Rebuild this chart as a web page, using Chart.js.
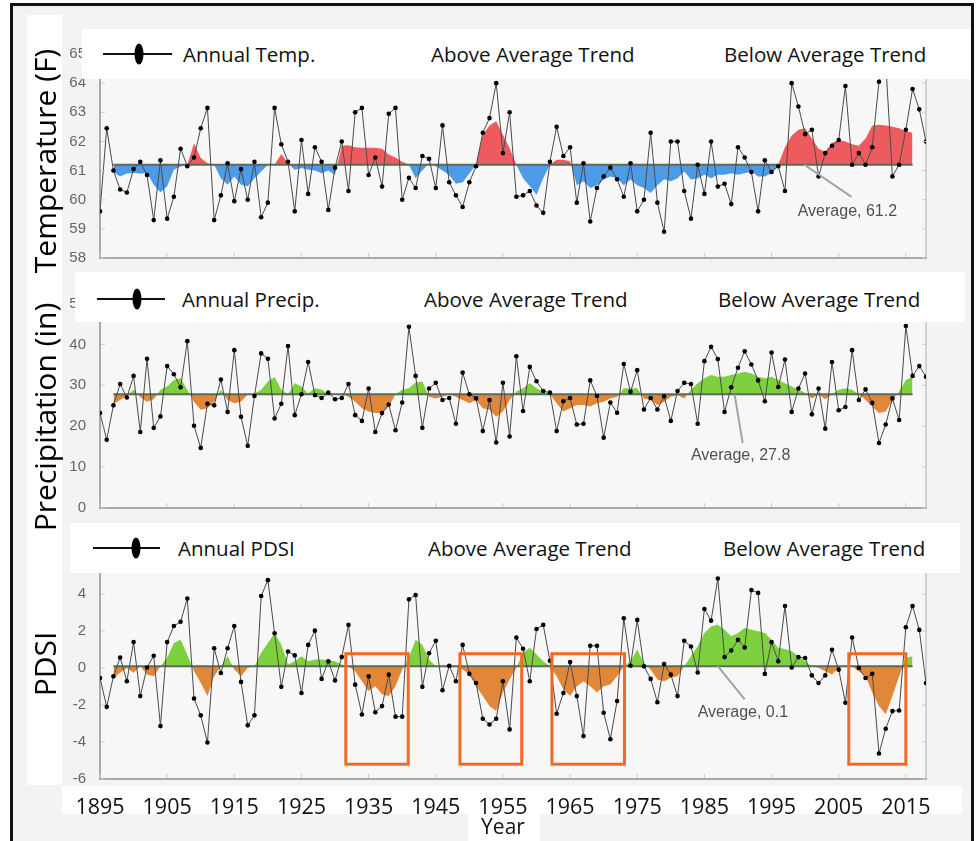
<!DOCTYPE html>
<html>
<head>
<meta charset="utf-8">
<script src="https://cdn.jsdelivr.net/npm/chart.js@4.4.1/dist/chart.umd.min.js"></script>
<style>
html, body { margin: 0; padding: 0; background: #fff; }
#wrap { position: relative; width: 977px; height: 841px; overflow: hidden; font-family: "Open Sans", sans-serif; }
#frame { position: absolute; left: 10px; top: 3px; width: 964px; height: 870px; border: 3px solid #111; box-sizing: border-box; background: #f3f3f3; }
canvas { position: absolute; left: 0; }
.white { position: absolute; background: #fff; }
.leg { position: absolute; font-size: 20.5px; color: #111; white-space: nowrap; line-height: 1; transform: translateY(-50%); }
.sym { position: absolute; height: 1.5px; background: #111; }
.dot { position: absolute; width: 9px; height: 21px; border-radius: 50%; background: #000; transform: translate(-50%, -50%); }
.ytitle { position: absolute; font-size: 30px; color: #000; white-space: nowrap; line-height: 1; transform: translate(-50%, -50%) rotate(-90deg); }
#year { position: absolute; left: 503px; top: 826px; font-size: 21px; color: #111; transform: translate(-50%, -50%); line-height: 1; }
</style>
</head>
<body>
<div id="wrap">
  <div id="frame"></div>
  <div class="white" style="left:27px;top:15px;width:35px;height:770px"></div>
  <div class="white" style="left:62px;top:786px;width:900px;height:28px"></div>
  <div class="white" style="left:468px;top:813px;width:72px;height:28px"></div>

  <canvas id="tempChart" width="977" height="280" style="top:0"></canvas>
  <canvas id="precipChart" width="977" height="250" style="top:280px"></canvas>
  <canvas id="pdsiChart" width="977" height="311" style="top:530px"></canvas>

  <div class="white" style="left:82px;top:29px;width:889px;height:50px"></div>
  <div class="sym" style="left:103px;top:53px;width:69px"></div>
  <div class="dot" style="left:139px;top:54px"></div>
  <div class="leg" style="left:183px;top:54px">Annual Temp.</div>
  <div class="leg" style="left:431px;top:54px">Above Average Trend</div>
  <div class="leg" style="left:724px;top:54px">Below Average Trend</div>

  <div class="white" style="left:75px;top:272px;width:890px;height:50px"></div>
  <div class="sym" style="left:97px;top:298px;width:68px"></div>
  <div class="dot" style="left:137px;top:299px"></div>
  <div class="leg" style="left:182px;top:299px">Annual Precip.</div>
  <div class="leg" style="left:424px;top:299px">Above Average Trend</div>
  <div class="leg" style="left:718px;top:299px">Below Average Trend</div>

  <div class="white" style="left:70px;top:523px;width:890px;height:50px"></div>
  <div class="sym" style="left:93px;top:547px;width:67px"></div>
  <div class="dot" style="left:136px;top:548px"></div>
  <div class="leg" style="left:178px;top:548px">Annual PDSI</div>
  <div class="leg" style="left:428px;top:548px">Above Average Trend</div>
  <div class="leg" style="left:723px;top:548px">Below Average Trend</div>

  <div class="ytitle" style="left:45px;top:161px">Temperature (F)</div>
  <div class="ytitle" style="left:45px;top:417px">Precipitation (in)</div>
  <div class="ytitle" style="left:45px;top:664px">PDSI</div>
  <div id="year">Year</div>
</div>

<script>
// years 1895..2018
const years = [];
for (let yr = 1895; yr <= 2018; yr++) years.push(yr);
const xTicks = [1895, 1905, 1915, 1925, 1935, 1945, 1955, 1965, 1975, 1985, 1995, 2005, 2015];
const averageSpan = [1897, 2016];

const tempAverage = 61.2;
const tempAnnual = [
  59.6, 62.45, 61.0, 60.35, 60.25, 61.05, 61.3, 60.85, 59.3, 61.35,   // 1895
  59.35, 60.1, 61.75, 61.15, 61.45, 62.45, 63.15, 59.3, 60.15, 61.25, // 1905
  59.95, 61.05, 60.0, 61.3, 59.4, 59.9, 63.15, 61.9, 61.3, 59.6,      // 1915
  62.05, 60.2, 61.8, 61.3, 59.65, 61.1, 62.0, 60.3, 63.0, 63.15,      // 1925
  60.85, 61.45, 60.45, 62.95, 63.15, 60.0, 60.75, 60.4, 61.5, 61.4,   // 1935
  60.4, 62.55, 60.6, 60.15, 59.75, 60.6, 61.15, 62.3, 62.8, 64.0,     // 1945
  61.6, 63.0, 60.1, 60.15, 60.3, 59.8, 59.55, 61.3, 62.5, 61.5,       // 1955
  61.8, 59.9, 61.25, 59.25, 60.4, 60.8, 61.1, 60.7, 60.1, 61.25,      // 1965
  59.6, 60.0, 62.3, 59.9, 58.9, 62.0, 62.0, 60.3, 59.35, 61.2,        // 1975
  60.2, 62.0, 60.45, 60.55, 59.85, 61.8, 61.45, 60.95, 59.6, 61.35,   // 1985
  60.95, 61.15, 60.3, 64.0, 63.2, 62.25, 62.4, 60.8, 61.6, 61.85,     // 1995
  62.05, 63.9, 61.2, 61.6, 61.2, 61.8, 64.05, 64.7, 60.8, 61.2,       // 2005
  62.4, 63.8, 63.1, 62.0                                              // 2015
];
const tempTrend = [
  null, null, 60.95, 60.8, 60.9, 60.92, 60.9, 60.91, 60.51, 60.26,
  60.46, 61.03, 61.14, 61.2, 61.94, 61.43, 61.25, 61.2, 60.74, 60.51,
  60.8, 60.51, 60.46, 60.74, 60.97, 61.2, 61.2, 61.57, 61.25, 61.03,
  61.09, 61.03, 61.0, 60.91, 61.0, 60.86, 61.85, 61.87, 61.8, 61.78,
  61.78, 61.78, 61.75, 61.55, 61.45, 61.3, 61.2, 60.74, 61.0, 61.25,
  61.15, 61.0, 60.85, 60.55, 60.6, 60.9, 61.2, 62.23, 62.55, 62.69,
  62.23, 61.77, 61.2, 60.74, 60.46, 60.17, 60.74, 61.2, 61.37, 61.37,
  61.32, 60.5, 60.63, 60.4, 60.5, 60.69, 60.8, 60.74, 60.5, 60.69,
  60.5, 60.4, 60.23, 60.5, 60.7, 60.63, 60.74, 60.97, 60.69, 60.74,
  60.86, 60.74, 60.86, 60.86, 60.91, 60.86, 60.91, 60.97, 60.8, 60.8,
  60.91, 61.2, 61.8, 62.2, 62.4, 62.45, 62.1, 61.75, 61.65, 61.95,
  62.05, 62.0, 61.9, 61.85, 62.1, 62.55, 62.57, 62.55, 62.5, 62.45,
  62.35, 62.3, null, null
];

const precipAverage = 27.8;
const precipAnnual = [
  23.2, 16.7, 25.1, 30.3, 27.0, 32.3, 18.6, 36.5, 19.6, 22.4,
  34.7, 32.7, 29.5, 40.8, 20.1, 14.7, 25.5, 25.1, 31.4, 23.5,
  38.6, 22.3, 15.2, 27.4, 37.8, 36.5, 21.9, 25.5, 39.6, 22.7,
  27.8, 35.7, 27.6, 26.9, 28.2, 26.6, 26.9, 30.3, 22.7, 21.3,
  29.2, 18.6, 23.2, 25.3, 19.0, 25.8, 44.3, 32.3, 19.6, 29.2,
  30.6, 26.4, 26.9, 20.6, 33.1, 27.8, 26.8, 18.8, 26.4, 16.0,
  30.6, 17.5, 37.1, 23.7, 34.5, 31.0, 28.6, 28.2, 18.8, 26.1,
  26.9, 20.4, 20.6, 31.2, 27.4, 17.2, 25.8, 23.3, 35.2, 28.4,
  33.7, 24.1, 26.9, 24.1, 27.3, 21.3, 28.6, 30.6, 30.3, 20.6,
  35.9, 39.4, 36.4, 23.5, 29.5, 34.3, 38.3, 35.1, 31.2, 26.1,
  38.0, 29.6, 36.3, 23.5, 29.2, 32.9, 22.9, 29.2, 19.4, 35.7,
  23.9, 24.7, 38.6, 26.4, 29.0, 25.7, 15.9, 20.4, 26.8, 21.5,
  44.5, 32.3, 34.7, 32.1
];
const precipTrend = [
  null, null, 25.4, 26.4, 27.4, 28.9, 27.1, 26.0, 26.6, 28.9,
  29.7, 31.3, 31.7, 28.9, 26.0, 24.0, 24.4, 26.0, 28.9, 26.4,
  25.6, 26.0, 27.8, 28.0, 28.9, 30.9, 32.0, 28.9, 27.8, 30.5,
  29.7, 28.0, 29.3, 29.0, 27.8, 27.8, 27.8, 27.2, 26.0, 24.4,
  23.6, 23.2, 23.2, 24.8, 27.8, 28.9, 29.3, 30.7, 30.9, 27.2,
  26.8, 27.2, 27.8, 27.2, 26.4, 25.6, 26.4, 24.4, 24.0, 22.3,
  23.6, 26.4, 28.5, 29.3, 30.5, 29.3, 28.5, 27.8, 25.6, 23.6,
  24.4, 25.2, 25.2, 24.8, 25.6, 26.0, 26.8, 27.2, 29.3, 29.3,
  29.3, 26.8, 26.4, 25.2, 26.0, 27.2, 27.6, 26.8, 28.9, 30.5,
  31.7, 32.5, 32.1, 32.1, 32.5, 32.9, 33.3, 32.9, 32.1, 31.7,
  32.1, 31.3, 30.5, 29.7, 28.9, 28.2, 26.8, 27.8, 26.6, 27.8,
  28.9, 29.3, 28.9, 27.8, 26.4, 24.8, 23.2, 23.6, 26.4, 28.5,
  31.3, 32.1, null, null
];

const pdsiAverage = 0.1;
const pdsiAnnual = [
  -0.54, -2.1, -0.45, 0.57, -0.72, 1.4, -1.52, 0.03, 0.66, -3.14,
  1.4, 2.27, 2.5, 3.76, -1.65, -2.56, -4.03, 1.07, -0.27, 1.07,
  2.27, -0.75, -3.1, -2.56, 3.89, 4.75, 1.88, -1.02, 0.89, 0.68,
  -1.35, 1.25, 2.02, -0.59, 0.36, -0.67, 0.59, 2.33, -0.9, -2.51,
  -0.45, -2.39, -2.06, -0.36, -2.63, -2.63, 3.71, 3.94, -1.02, 0.8,
  1.47, -1.2, 0.12, -0.72, 1.25, -0.32, -0.81, -2.74, -3.05, -2.74,
  -0.72, -3.32, 1.65, 1.04, -0.72, 2.11, 2.33, 0.39, -2.47, -1.35,
  0.32, -1.52, -3.68, 1.2, 1.2, -2.42, -3.85, -1.79, 2.69, 0.12,
  2.6, 0.09, -0.59, -1.85, 0.21, -0.36, -1.52, 1.47, 1.16, -0.24,
  3.19, 2.56, 4.84, 0.59, 0.95, 1.52, 1.11, 4.21, 4.06, -0.32,
  1.4, 0.36, 3.35, 0.03, 0.59, 0.54, -0.4, -0.81, -0.4, 0.98,
  -0.09, -1.88, 1.65, 0.0, -0.54, -0.31, -4.62, -3.28, -2.33, -2.3,
  2.2, 3.35, 2.06, -0.81
];
const pdsiTrend = [
  null, null, -0.53, -0.26, 0.0, -0.26, 0.1, -0.35, -0.44, 0.1,
  0.55, 1.35, 1.53, 0.73, -0.17, -0.8, -1.51, -0.44, 0.1, 0.64,
  -0.08, -0.44, 0.01, 0.1, 0.82, 1.35, 1.89, 1.26, 0.19, 0.37,
  0.64, 0.37, 0.46, 0.46, 0.42, 0.37, 0.19, 0.1, -0.17, -0.71,
  -1.24, -0.98, -1.42, -1.51, -0.98, -0.08, 0.55, 1.53, 1.26, 0.46,
  0.1, 0.1, 0.01, 0.05, -0.08, -0.35, -0.98, -1.51, -2.05, -2.32,
  -1.33, -0.62, 0.01, 0.82, 1.09, 0.73, 0.37, 0.1, -0.44, -1.15,
  -1.51, -0.98, -0.71, -0.98, -1.33, -0.98, -0.89, -0.44, 0.1, 0.37,
  1.0, 0.28, -0.08, -0.62, -0.71, -0.53, -0.44, 0.1, 0.64, 1.18,
  1.89, 2.25, 2.34, 2.07, 1.71, 1.89, 2.16, 2.07, 1.98, 1.89,
  1.53, 1.09, 1.03, 0.91, 0.64, 0.37, 0.1, 0.01, -0.17, -0.35,
  0.01, 0.1, 0.1, -0.17, -0.44, -1.33, -2.05, -2.5, -1.51, -0.44,
  0.55, 0.64, null, null
];

// drought periods outlined on the PDSI panel: [from year, to year]
const droughtYears = [[1931.6, 1940.9], [1948.6, 1957.8], [1962.3, 1973.1], [2006.5, 2015.0]];
const droughtRange = [0.77, -5.2];

const panelPlugin = {
  id: 'panel',
  beforeDraw(chart) {
    const { ctx, chartArea: a } = chart;
    ctx.save();
    ctx.fillStyle = '#f7f7f7';
    ctx.fillRect(a.left, a.top, a.right - a.left, a.bottom - a.top);
    ctx.strokeStyle = '#c6c6c6';
    ctx.lineWidth = 1.5;
    ctx.beginPath();
    ctx.moveTo(a.right, a.top);
    ctx.lineTo(a.right, a.bottom);
    ctx.stroke();
    ctx.restore();
  },
  afterDraw(chart, args, opts) {
    const { ctx, chartArea: a, scales: { x, y } } = chart;
    ctx.save();
    // little inside ticks
    ctx.strokeStyle = '#cdcdcd';
    ctx.lineWidth = 1;
    ctx.beginPath();
    y.ticks.forEach(t => {
      const py = y.getPixelForValue(t.value);
      ctx.moveTo(a.left + 1, py); ctx.lineTo(a.left + 5, py);
      ctx.moveTo(a.right - 4, py); ctx.lineTo(a.right, py);
    });
    x.ticks.forEach(t => {
      const px = x.getPixelForValue(t.value);
      ctx.moveTo(px, a.bottom - 1); ctx.lineTo(px, a.bottom - 5);
    });
    ctx.stroke();

    const n = opts.note;
    if (n) {
      ctx.strokeStyle = '#a3a3a3';
      ctx.lineWidth = 2;
      ctx.beginPath();
      ctx.moveTo(x.getPixelForValue(n.line[0][0]), y.getPixelForValue(n.line[0][1]));
      ctx.lineTo(x.getPixelForValue(n.line[1][0]), y.getPixelForValue(n.line[1][1]));
      ctx.stroke();
      ctx.fillStyle = '#505050';
      ctx.font = '16px "Liberation Sans", Arial, sans-serif';
      ctx.textBaseline = 'middle';
      ctx.fillText(n.text, x.getPixelForValue(n.at[0]), y.getPixelForValue(n.at[1]));
    }
    (opts.boxes || []).forEach(b => {
      const x0 = x.getPixelForValue(b[0]), x1 = x.getPixelForValue(b[1]);
      const y0 = y.getPixelForValue(opts.boxRange[0]), y1 = y.getPixelForValue(opts.boxRange[1]);
      ctx.strokeStyle = '#f26a21';
      ctx.lineWidth = 3;
      ctx.strokeRect(x0, y0, x1 - x0, y1 - y0);
    });
    ctx.restore();
  }
};

function pts(arr) {
  return years.map((yr, i) => ({ x: yr, y: arr[i] }));
}

function makeChart(id, cfg) {
  return new Chart(document.getElementById(id), {
    type: 'line',
    data: {
      datasets: [
        {
          label: cfg.label,
          data: pts(cfg.annual),
          borderColor: '#4a4a4a',
          borderWidth: 1,
          pointRadius: 2.3,
          pointBackgroundColor: '#000',
          pointBorderWidth: 0,
          fill: false,
          tension: 0
        },
        {
          label: 'Average',
          data: averageSpan.map(yr => ({ x: yr, y: cfg.avg })),
          borderColor: '#5b6a5c',
          borderWidth: 2,
          pointRadius: 0,
          fill: false
        },
        {
          label: 'Trend',
          data: pts(cfg.trend),
          borderWidth: 0,
          borderColor: 'rgba(0,0,0,0)',
          pointRadius: 0,
          tension: 0,
          fill: { target: { value: cfg.avg }, above: cfg.above, below: cfg.below }
        }
      ]
    },
    options: {
      responsive: false,
      animation: false,
      devicePixelRatio: 1,
      layout: { padding: { left: 60, right: 51, top: cfg.padTop, bottom: 0 } },
      plugins: {
        legend: { display: false },
        tooltip: { enabled: false },
        panel: { note: cfg.note, boxes: cfg.boxes, boxRange: droughtRange }
      },
      scales: {
        x: {
          type: 'linear',
          min: 1895,
          max: 2018,
          afterBuildTicks: s => { s.ticks = xTicks.map(v => ({ value: v })); },
          afterFit: s => { s.height = cfg.xHeight; },
          grid: { display: false },
          border: { color: '#a9a9a9', width: 2 },
          ticks: {
            display: cfg.showX,
            autoSkip: false,
            maxRotation: 0,
            padding: 8,
            color: '#111',
            font: { family: 'Open Sans', size: 21.5 },
            callback: v => String(v)
          }
        },
        y: {
          min: cfg.yMin,
          max: cfg.yMax,
          afterFit: s => { s.width = 40; },
          grid: { display: false },
          border: { color: '#a9a9a9', width: 2 },
          ticks: {
            stepSize: cfg.yStep,
            padding: 6,
            color: '#666',
            font: { family: 'Liberation Sans', size: 15 }
          }
        }
      }
    },
    plugins: [panelPlugin]
  });
}

makeChart('tempChart', {
  label: 'Annual Temp.', annual: tempAnnual, trend: tempTrend, avg: tempAverage,
  above: '#ee5b5f', below: '#4c9be6',
  yMin: 58, yMax: 65, yStep: 1, padTop: 54, xHeight: 22, showX: false,
  note: { text: 'Average, 61.2', line: [[1999.9, 61.2], [2006.9, 60.1]], at: [1998.9, 59.58] }
});

makeChart('precipChart', {
  label: 'Annual Precip.', annual: precipAnnual, trend: precipTrend, avg: precipAverage,
  above: '#7dd13f', below: '#e0873a',
  yMin: 0, yMax: 50, yStep: 10, padTop: 23.5, xHeight: 22, showX: false,
  note: { text: 'Average, 27.8', line: [[1989.5, 27.8], [1990.7, 15.9]], at: [1983.0, 12.9] }
});

makeChart('pdsiChart', {
  label: 'Annual PDSI', annual: pdsiAnnual, trend: pdsiTrend, avg: pdsiAverage,
  above: '#7dd13f', below: '#e0873a',
  yMin: -6, yMax: 6, yStep: 2, padTop: 27, xHeight: 62, showX: true,
  note: { text: 'Average, 0.1', line: [[1987.0, 0.1], [1991.0, -1.7]], at: [1984.0, -2.4] },
  boxes: droughtYears
});
</script>
</body>
</html>
